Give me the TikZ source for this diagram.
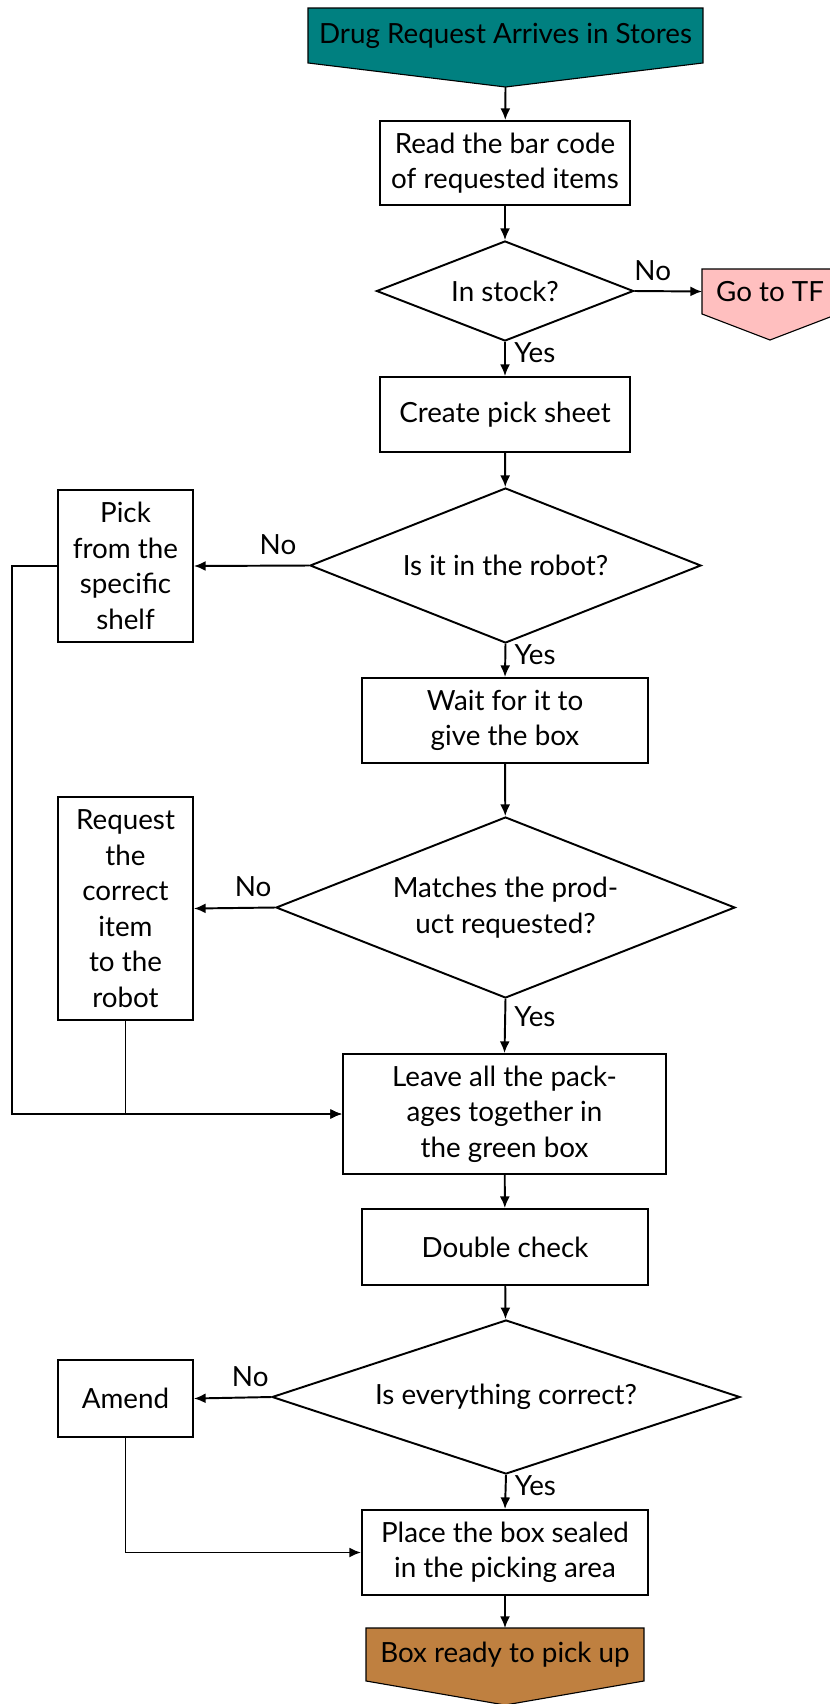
\documentclass[tikz,border=0pt]{standalone}
\usepackage{fontspec}
\setmainfont{Lato}
\usetikzlibrary{shapes.geometric,arrows.meta,backgrounds}

\begin{document}
\begin{tikzpicture}[x=0.36pt,y=-0.36pt,
  font=\fontsize{10}{12.8}\selectfont,
  line width=0.7pt,
  >={Latex[length=4.2pt,width=3.6pt]},
  size/.style 2 args={minimum width=#1*0.36pt, minimum height=#2*0.36pt},
  box/.style={draw, rectangle, align=center, inner sep=0pt},
  decision/.style={draw, diamond, align=center, inner sep=0pt, aspect=2.5},
  pennant/.style={rectangle, align=center, inner sep=0pt},
  flow/.style={->},
  yeslbl/.style={pos=0.32, right, inner sep=3pt},
  nolbl/.style={pos=0.27, above, inner sep=3.5pt}]

\useasboundingbox (0,0) rectangle (830,1704);

% main column
\node[pennant, size={393}{53}] (start) at (505.5,35.5) {Drug Request Arrives in Stores};
\coordinate (starttip) at (505.5,87);
\node[box, size={250}{84}] (read) at (505,163) {Read the bar code\\of requested items};
\node[decision, size={257}{100}] (stock) at (505,291) {In stock?};
\node[pennant, size={134}{43}] (tf) at (770,291.5) {Go to TF};
\coordinate (tftip) at (770,340);
\node[box, size={250}{75}] (sheet) at (505,414.5) {Create pick sheet};
\node[decision, size={391}{155}] (robot) at (505.5,565.5) {Is it in the robot?};
\node[box, size={135}{152}] (shelf) at (125.5,566) {Pick\\from the\\specific\\shelf};
\node[box, size={286}{85}] (wait) at (505,720.5) {Wait for it to\\give the box};
\node[decision, size={459}{181}] (match) at (505.5,907.5) {Matches the prod-\\uct requested?};
\node[box, size={135}{223}] (request) at (125.5,908.5) {Request\\the\\correct\\item\\to the\\robot};
\node[box, size={323}{120}] (leave) at (504.5,1114) {Leave all the pack-\\ages together in\\the green box};
\node[box, size={286}{76}] (check) at (505,1247) {Double check};
\node[decision, size={468}{154}] (correct) at (506,1397) {Is everything correct?};
\node[box, size={135}{77}] (amend) at (125.5,1398.5) {Amend};
\node[box, size={286}{85}] (place) at (505,1552.5) {Place the box sealed\\in the picking area};
\node[pennant, size={276}{51}] (ready) at (505,1654.5) {Box ready to pick up};
\coordinate (readytip) at (505,1705);
\coordinate (loopx) at (12,0);

% pennant outlines behind their labels
\begin{scope}[on background layer]
  \filldraw[fill=teal] (start.north west) -- (start.north east) -- (start.south east)
    -- (starttip) -- (start.south west) -- cycle;
  \filldraw[fill=pink] (tf.north west) -- (tf.north east) -- (tf.south east)
    -- (tftip) -- (tf.south west) -- cycle;
  \filldraw[fill=brown] (ready.north west) -- (ready.north east) -- (ready.south east)
    -- (readytip) -- (ready.south west) -- cycle;
\end{scope}

% connectors
\draw[flow] (starttip) -- (read);
\draw[flow] (read) -- (stock);
\draw[flow] (stock.east) -- node[nolbl] {No} (tf.west);
\draw[flow] (stock.south) -- node[yeslbl] {Yes} (sheet.north);
\draw[flow] (sheet) -- (robot);
\draw[flow] (robot.west) -- node[nolbl] {No} (shelf.east);
\draw[flow] (robot.south) -- node[yeslbl] {Yes} (wait.north);
\draw[flow] (wait) -- (match);
\draw[flow] (match.west) -- node[nolbl] {No} (request.east);
\draw[flow] (match.south) -- node[yeslbl] {Yes} (leave.north);
\draw[flow] (shelf.west) -| (loopx |- leave.west) -- (leave.west);
\draw[flow] (request.south) |- (leave.west);
\draw[flow] (leave) -- (check);
\draw[flow] (check) -- (correct);
\draw[flow] (correct.west) -- node[nolbl] {No} (amend.east);
\draw[flow] (correct.south) -- node[yeslbl] {Yes} (place.north);
\draw[flow] (amend.south) |- (place.west);
\draw[flow] (place) -- (ready);
\end{tikzpicture}
\end{document}
